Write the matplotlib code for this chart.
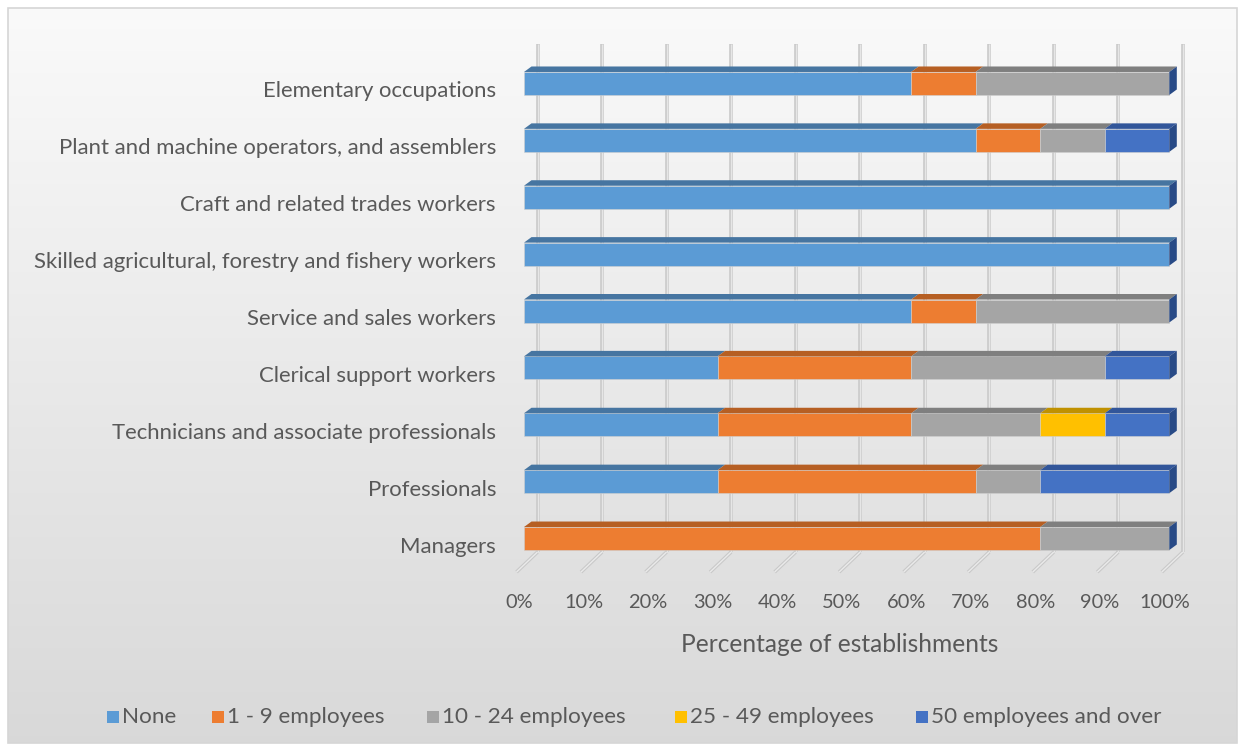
import matplotlib
matplotlib.use("Agg")
import matplotlib.pyplot as plt
import numpy as np
from matplotlib.patches import Polygon, Rectangle
import matplotlib.patheffects as pe

# ---- data -------------------------------------------------------------
occupations = [
    "Managers",
    "Professionals",
    "Technicians and associate professionals",
    "Clerical support workers",
    "Service and sales workers",
    "Skilled agricultural, forestry and fishery workers",
    "Craft and related trades workers",
    "Plant and machine operators, and assemblers",
    "Elementary occupations",
]
size_bands = ["None", "1 - 9 employees", "10 - 24 employees",
              "25 - 49 employees", "50 employees and over"]
pct_none = [0, 30, 30, 30, 60, 100, 100, 70, 60]
pct_1_9 = [80, 40, 30, 30, 10, 0, 0, 10, 10]
pct_10_24 = [20, 10, 20, 30, 30, 0, 0, 10, 30]
pct_25_49 = [0, 0, 10, 0, 0, 0, 0, 0, 0]
pct_50_plus = [0, 20, 10, 10, 0, 0, 0, 10, 0]
x_ticks = [0, 10, 20, 30, 40, 50, 60, 70, 80, 90, 100]
x_title = "Percentage of establishments"

series = [pct_none, pct_1_9, pct_10_24, pct_25_49, pct_50_plus]

# ---- style ------------------------------------------------------------
front_colors = ["#5B9BD5", "#ED7D31", "#A5A5A5", "#FFC000", "#4472C4"]
top_colors = ["#4675A1", "#B65F23", "#7F7F7F", "#C09100", "#32569A"]
side_color = "#284A86"
text_color = "#595959"
plt.rcParams["font.family"] = ["Lato", "DejaVu Sans"]

W, H = 1245, 751
fig = plt.figure(figsize=(W / 100, H / 100), dpi=100)
fig.patch.set_facecolor("white")

# background panel with a soft vertical gradient
bg = fig.add_axes([0, 0, 1, 1])
bg.set_xlim(0, W)
bg.set_ylim(H, 0)
bg.axis("off")
grad = np.linspace(0, 1, 256).reshape(-1, 1)
c_top = np.array([0.980, 0.980, 0.980])
c_bot = np.array([0.850, 0.850, 0.850])
img = c_top + (c_bot - c_top) * grad[..., None]
img = np.repeat(img, 2, axis=1)
bg.imshow(img, extent=(8, 1237, 743, 8), aspect="auto", interpolation="bicubic", zorder=0)
bg.add_patch(Rectangle((8, 8), 1229, 735, fill=False, edgecolor="#D6D6D6", lw=1.2, zorder=1))

# plotting area
ax_left, ax_w = 524, 645.3
ax_top, ax_bot = 26.6, 595.4
ax = fig.add_axes([ax_left / W, (H - ax_bot) / H, ax_w / W, (ax_bot - ax_top) / H])
ax.set_xlim(0, 100)
ax.set_ylim(-1, 9)
ax.axis("off")
ax.patch.set_alpha(0)

sx = ax_w / 100.0             # pixels per percent
sy = (ax_bot - ax_top) / 10.0  # pixels per category step

depth_x = 7.5 / sx
depth_y = 5.5 / sy
bar_h = 23 / sy

# back-wall gridlines and floor lines
grid_off = 13.5 / sx
wall_top = (538.5 - 44) / sy
wall_bot = (538.5 - 552) / sy
floor_dx = -21 / sx
floor_dy = -20 / sy
grid_fx = [pe.Stroke(linewidth=2.6, foreground="#C9C9C9"), pe.Normal()]
for t in x_ticks:
    gx = t + grid_off
    ax.plot([gx, gx], [wall_bot, wall_top], color="#E6E6E6", lw=1.0,
            path_effects=grid_fx, zorder=1, solid_capstyle="butt", clip_on=False)
    ax.plot([gx, gx + floor_dx], [wall_bot, wall_bot + floor_dy], color="#EAEAEA",
            lw=1.0, path_effects=grid_fx, zorder=1, solid_capstyle="butt", clip_on=False)

# 3-D stacked bars
ypos = np.arange(len(occupations))
left = np.zeros(len(occupations))
for k, vals in enumerate(series):
    vals = np.asarray(vals, dtype=float)
    bars = ax.barh(ypos, vals, left=left, height=bar_h, color=front_colors[k],
                   edgecolor="#D0D0D0", linewidth=0.4, zorder=3)
    for b in bars:
        b.set_clip_on(False)
    for i, (x0, w) in enumerate(zip(left, vals)):
        if w <= 0:
            continue
        yt = i + bar_h / 2
        ax.add_patch(Polygon([(x0, yt), (x0 + depth_x, yt + depth_y),
                              (x0 + w + depth_x, yt + depth_y), (x0 + w, yt)],
                             closed=True, facecolor=top_colors[k],
                             edgecolor="none", zorder=3, clip_on=False))
    left = left + vals

for i, total in enumerate(left):
    yb, yt = i - bar_h / 2, i + bar_h / 2
    ax.add_patch(Polygon([(total, yb), (total, yt), (total + depth_x, yt + depth_y),
                          (total + depth_x, yb + depth_y)], closed=True,
                         facecolor=side_color, edgecolor="none", zorder=3, clip_on=False))

# text
cat_texts = [ax.text(-28 / sx, i - 8 / sy, name, ha="right", va="center",
                     color=text_color, fontsize=14) for i, name in enumerate(occupations)]
tick_texts = [ax.text(t - 5 / sx, (538.5 - 602) / sy, f"{t}%", ha="center", va="center",
                      color=text_color, fontsize=14, clip_on=False) for t in x_ticks]
title_text = ax.text((840 - ax_left) / sx, (538.5 - 644) / sy, x_title, ha="center",
                     va="center", color=text_color, fontsize=16, clip_on=False)

# legend
leg_x = [113, 218, 433, 681, 922]
leg_y = 717
leg_texts = []
for k, name in enumerate(size_bands):
    bg.add_patch(Rectangle((leg_x[k] - 6, leg_y - 6), 12, 12, facecolor=front_colors[k],
                           edgecolor="none", zorder=2))
    leg_texts.append(bg.text(leg_x[k] + 9, leg_y, name, ha="left", va="center",
                             color=text_color, fontsize=13, zorder=2))

# scale each text group to the intended rendered width
fig.canvas.draw()
rend = fig.canvas.get_renderer()


def fit(group, refs, targets):
    f = np.mean([r.get_fontsize() * tg / r.get_window_extent(rend).width
                 for r, tg in zip(refs, targets)])
    for t in group:
        t.set_fontsize(f)


fit(cat_texts, [cat_texts[-1], cat_texts[5]], [234, 464])
fit(tick_texts, [tick_texts[-1]], [51])
fit([title_text], [title_text], [318])
fit(leg_texts, [leg_texts[-1]], [229])

fig.savefig("out.png", dpi=100)
